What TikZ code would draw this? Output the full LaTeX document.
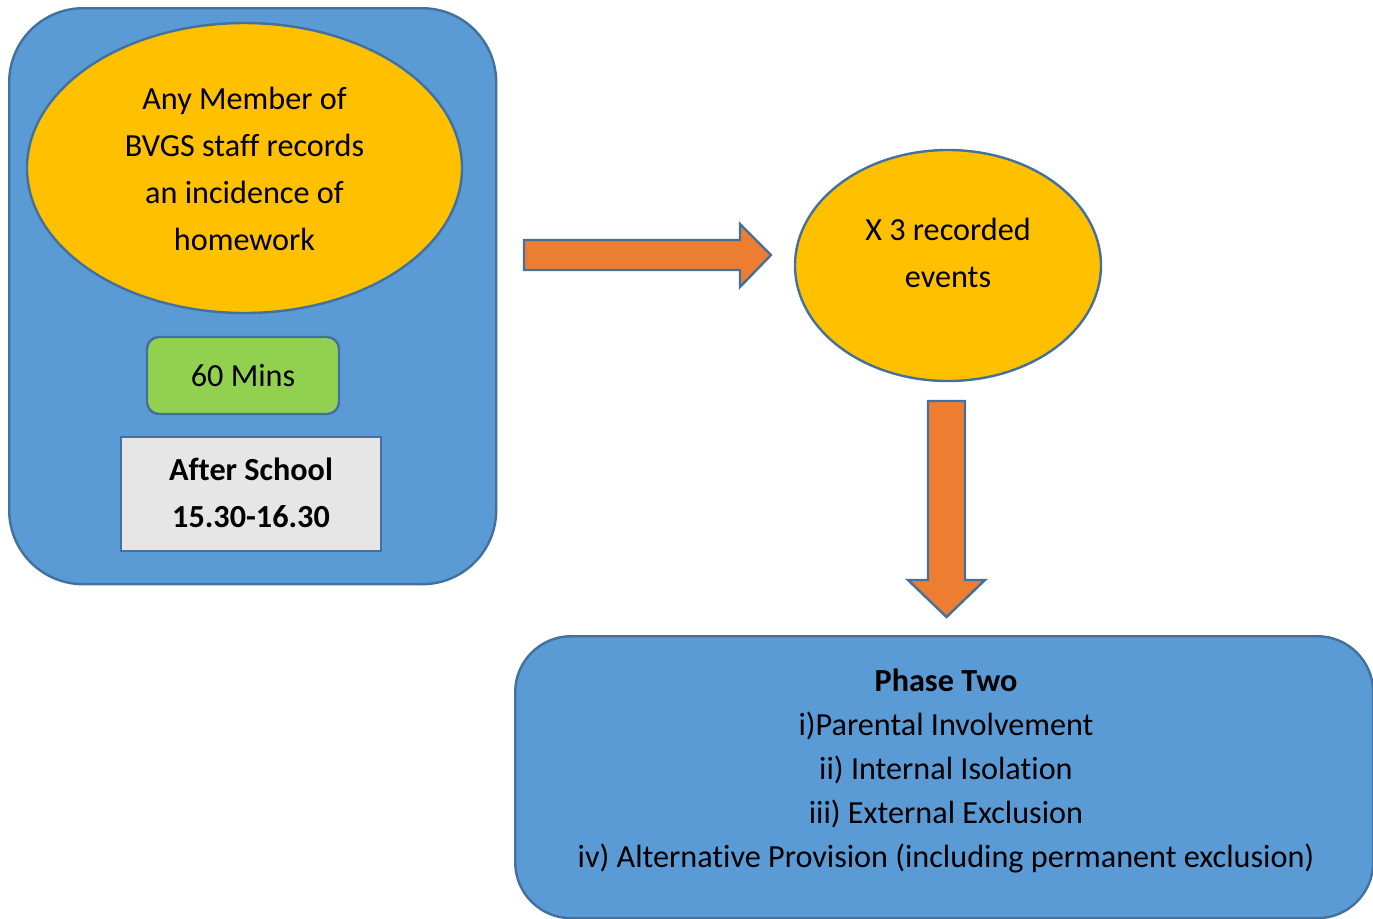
\documentclass[tikz,border=0pt]{standalone}
\usepackage{fontspec}
\setmainfont{Carlito}[Ligatures=NoCommon]
\usetikzlibrary{shapes.geometric}
\definecolor{boxblue}{HTML}{5B9BD5}
\definecolor{edgeblue}{HTML}{41719C}
\definecolor{arroworange}{HTML}{ED7D31}
\definecolor{ovalyellow}{HTML}{FFC000}
\definecolor{minsgreen}{HTML}{92D050}
\definecolor{panelgray}{HTML}{E7E6E6}
\tikzset{
  panel/.style={draw=edgeblue, line width=1.2pt, fill=boxblue, rounded corners=#1},
  oval/.style={ellipse, draw=edgeblue, line width=1.2pt, fill=ovalyellow, inner sep=0pt},
  txt/.style={align=center, font=\fontsize{16.1}{23.5}\selectfont, text=black},
  blockarrow/.style={draw=edgeblue, line width=1.2pt, fill=arroworange, line join=miter}
}
\begin{document}
\begin{tikzpicture}[x=0.5pt, y=-0.5pt]
\useasboundingbox (0,0) rectangle (1373,918);
% left panel
\node[panel=37pt, minimum width=243.5pt, minimum height=288pt, anchor=north west] (leftpanel) at (8,7) {};
\node[oval, minimum width=217.5pt, minimum height=145pt] (member) at (244.5,168) {};
\node[txt] (membertxt) at (244.5,168.5) {Any Member of\\BVGS staff records\\an incidence of\\homework};
\node[draw=edgeblue, line width=1.2pt, fill=minsgreen, rounded corners=6pt, minimum width=96pt, minimum height=38.5pt] (mins) at (243,375.5) {};
\node[txt] at (mins.center) {60 Mins};
\node[draw=edgeblue, line width=1.2pt, fill=panelgray, minimum width=130pt, minimum height=57pt] (after) at (251,494) {};
\node[txt, font=\bfseries\fontsize{16.1}{23.5}\selectfont] at ([yshift=0.5pt]after.center) {After School\\15.30-16.30};
% right oval
\node[oval, minimum width=153pt, minimum height=115.5pt] (events) at (948,265.5) {};
\node[txt] at (948,252.5) {X 3 recorded\\events};
% arrows
\coordinate (ra) at (524,255);
\draw[blockarrow] (ra) ++(0,-15) -- ++(216,0) -- ++(0,-16) -- (771,255) -- (740,287) -- ++(0,-17) -- ++(-216,0) -- cycle;
\coordinate (da) at (946.5,401);
\draw[blockarrow] (928,401) -- (965,401) -- (965,580) -- (985,580) -- (946.5,617) -- (908,580) -- (928,580) -- cycle;
% bottom panel
\node[panel=28pt, minimum width=429pt, minimum height=141pt, anchor=north west] (phase) at (514,635) {};
\node[txt, font=\fontsize{16.1}{21.9}\selectfont] (phasetxt) at (946,771) {\textbf{Phase Two}\\i)Parental Involvement\\ii) Internal Isolation\\iii) External Exclusion\\iv) Alternative Provision (including permanent exclusion)};
\end{tikzpicture}
\end{document}
